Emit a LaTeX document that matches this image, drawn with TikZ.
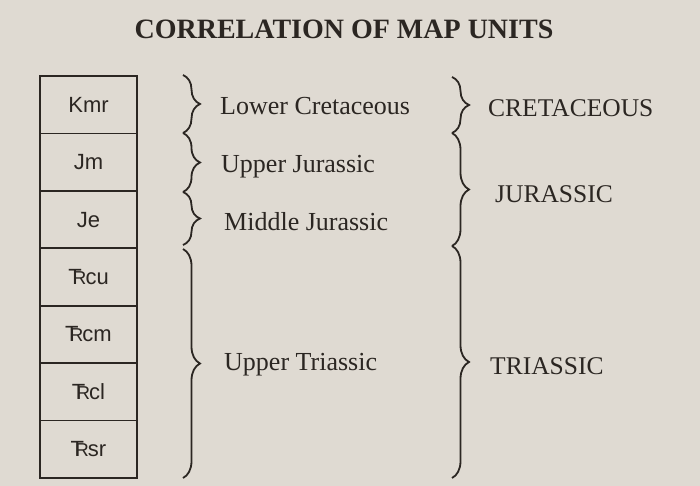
\documentclass[tikz,border=0pt]{standalone}
\usepackage{fontspec}
\setmainfont{Liberation Serif}
\newfontfamily\boxfont{Liberation Sans}
\usetikzlibrary{decorations.pathreplacing}
\definecolor{bg}{HTML}{DFDAD2}
\definecolor{ink}{HTML}{2B2622}
\newcommand{\TRsym}{T\kern-0.40em\scalebox{0.85}{R}\kern-0.04em}
\begin{document}
\begin{tikzpicture}[x=1pt,y=-1pt,
  cell/.style={draw=ink, line width=1.6pt, minimum width=97pt, minimum height=57.43pt,
    inner sep=0pt, outer sep=0pt, font=\boxfont\fontsize{22}{26}\selectfont, text=ink},
  lbl/.style={anchor=base west, inner sep=0pt, font=\fontsize{26}{30}\selectfont, text=ink},
  periodlbl/.style={anchor=base west, inner sep=0pt, font=\fontsize{25.5}{30}\selectfont, text=ink},
  brc/.style={draw=ink, line width=1.8pt, decorate, decoration={brace, amplitude=17pt}}]
\fill[bg] (0,0) rectangle (700,486);
\useasboundingbox (0,0) rectangle (700,486);
\node[anchor=base, inner sep=0pt, text=ink, font=\bfseries\fontsize{28}{32}\selectfont] (title) at (344,39) {CORRELATION OF MAP UNITS};
% column of units
\node[cell] (kmr) at (88.5,104.7) {Kmr};
\node[cell, anchor=north] (jm) at (kmr.south) {Jm};
\node[cell, anchor=north] (je) at (jm.south) {Je};
\node[cell, anchor=north] (tcu) at (je.south) {\TRsym cu};
\node[cell, anchor=north] (tcm) at (tcu.south) {\TRsym cm};
\node[cell, anchor=north] (tcl) at (tcm.south) {\TRsym cl};
\node[cell, anchor=north] (tsr) at (tcl.south) {\TRsym sr};
% coordinates for braces
\coordinate (a0) at (183,75);
\coordinate (a1) at (183,133);
\coordinate (a2) at (183,192);
\coordinate (a3) at (183,245);
\coordinate (a4) at (183,249);
\coordinate (a5) at (183,478);
\coordinate (b0) at (452,77);
\coordinate (b1) at (452,133);
\coordinate (b2) at (452,246);
\coordinate (b3) at (452,478);
\draw[brc] (a0) -- (a1);
\draw[brc] (a1) -- (a2);
\draw[brc] (a2) -- (a3);
\draw[brc] (a4) -- (a5);
\draw[brc] (b0) -- (b1);
\draw[brc] (b1) -- (b2);
\draw[brc] (b2) -- (b3);
% labels
\node[lbl] (lc) at (220,115) {Lower Cretaceous};
\node[lbl] (uj) at (221,173) {Upper Jurassic};
\node[lbl] (mj) at (224,230) {Middle Jurassic};
\node[lbl] (ut) at (224,370) {Upper Triassic};
\node[periodlbl] (cr) at (488,117) {CRETACEOUS};
\node[periodlbl] (ju) at (495,202) {JURASSIC};
\node[periodlbl] (tr) at (490,374) {TRIASSIC};
\end{tikzpicture}
\end{document}
